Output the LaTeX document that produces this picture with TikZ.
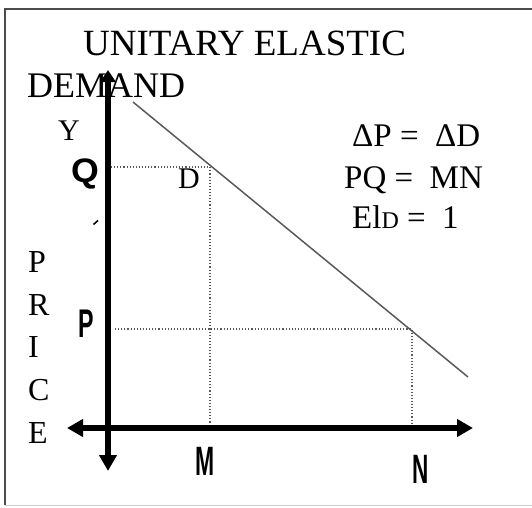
\documentclass[tikz,border=0pt]{standalone}
\usepackage{fontspec}
\setmainfont{Liberation Serif}
\newfontfamily\lsans{Liberation Sans}
\usetikzlibrary{arrows.meta}
\tikzset{
  serif/.style={inner sep=0pt, anchor=base west, font=\fontsize{#1}{#1}\selectfont},
  sanslbl/.style={inner sep=0pt, anchor=base west, font=\lsans\bfseries\fontsize{#1}{#1}\selectfont},
  axis/.style={line width=5.5pt, -{Triangle[length=16pt,width=17pt]}},
  axistop/.style={line width=5.5pt, -{Triangle[length=12pt,width=15pt]}},
  demand/.style={draw=black!65, line width=1.5pt},
  guide/.style={draw=black!65, line width=1.1pt, dotted},
}
\begin{document}
\begin{tikzpicture}[x=1pt,y=-1pt]
\useasboundingbox (0,0) rectangle (532,507);
% frame
\draw[black!70, line width=2pt] (5,505) -- (5,9) -- (533,9);
\draw[black!20, line width=1pt] (5,505.5) -- (533,505.5);
% texts
\node[serif=37] (title) at (83,55) {UNITARY ELASTIC};
\node[serif=36] (dem) at (27,97) {DEMAND};
\node[serif=30] (ylab) at (58,140) {Y};
\node[serif=30] (dlab) at (178,188) {D};
\node[serif=33] (eq1) at (352,146) {ΔP =\ \ ΔD};
\node[serif=33] (eq2) at (344,188) {PQ =\ \ MN};
\node[serif=33] (eq3) at (352,228) {El{\fontsize{24}{24}\selectfont D} =\ \ 1};
\node[serif=32] (p1) at (28,272) {P};
\node[serif=32] (p2) at (28,315) {R};
\node[serif=32] (p3) at (28,357) {I};
\node[serif=32] (p4) at (28,400) {C};
\node[serif=32] (p5) at (28,443) {E};
\node[sanslbl=34] (qlab) at (71,182) {\scalebox{1.05}[1]{Q}};
\node[sanslbl=40] (plab) at (78,337) {\scalebox{0.58}[1]{P}};
\node[sanslbl=41] (mlab) at (195,475) {\scalebox{0.56}[1]{M}};
\node[sanslbl=41] (nlab) at (412,483) {\scalebox{0.55}[1]{N}};
% stray mark
\coordinate (s1) at (93.5,224.5);
\coordinate (s2) at (98,220.5);
\draw[line width=1.6pt] (s1) -- (s2);
% points
\coordinate (O) at (108,428);
\coordinate (ytop) at (108,70);
\coordinate (ybot) at (108,471);
\coordinate (xl) at (67,428);
\coordinate (xr) at (473,428);
\coordinate (A) at (133,102);
\coordinate (B) at (468,377);
\coordinate (Dp) at (210,167);
\coordinate (Np) at (412,329);
\coordinate (Qa) at (111,167);
\coordinate (Pa) at (115,329);
\coordinate (Mx) at (210,428);
\coordinate (Nx) at (412,428);
% guides
\draw[guide] (Qa) -- (Dp) -- (Mx);
\draw[guide] (Pa) -- (Np) -- (Nx);
% demand
\draw[demand] (A) -- (B);
% axes
\draw[axistop] (O) -- (ytop);
\draw[axis] (O) -- (ybot);
\draw[axis] (O) -- (xl);
\draw[axis] (O) -- (xr);
\end{tikzpicture}
\end{document}
